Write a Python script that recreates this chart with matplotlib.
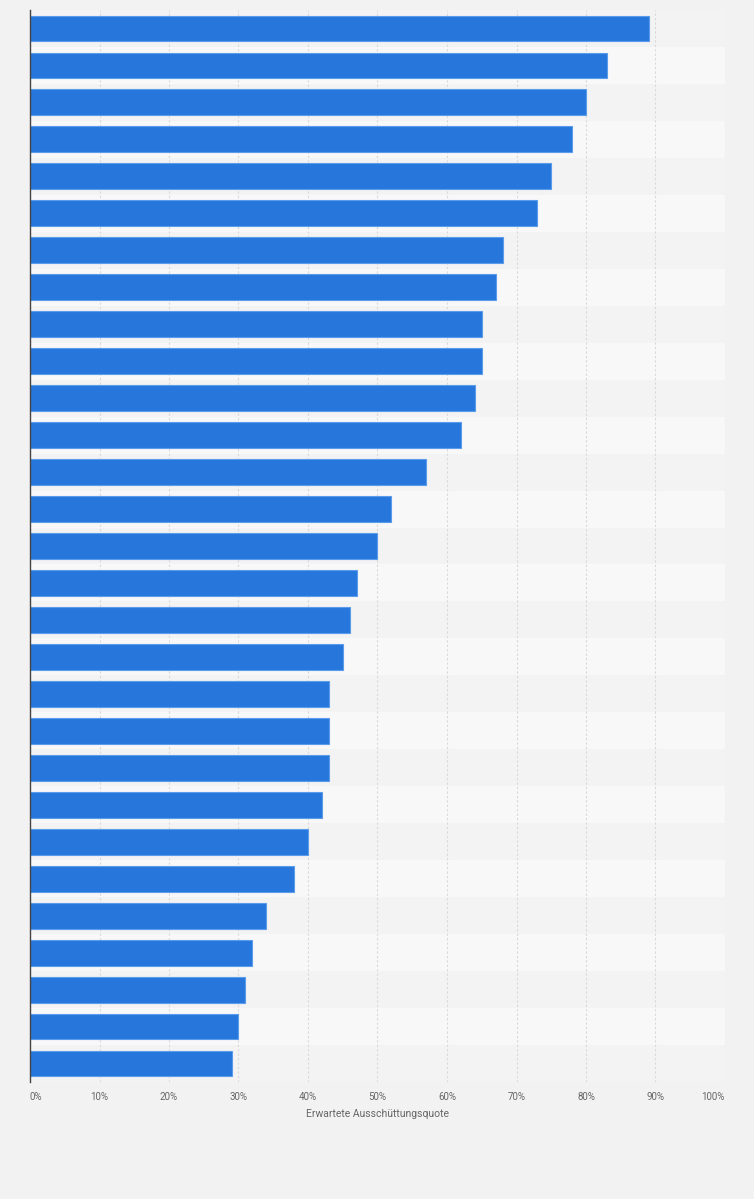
import matplotlib
matplotlib.use("Agg")
import matplotlib.pyplot as plt
import numpy as np

values = [89, 83, 80, 78, 75, 73, 68, 67, 65, 65, 64, 62, 57, 52, 50, 47, 46, 45,
          43, 43, 43, 42, 40, 38, 34, 32, 31, 30, 29]
ticks = [0, 10, 20, 30, 40, 50, 60, 70, 80, 90, 100]
tick_labels = [f"{t}%" for t in ticks]
xlabel = "Erwartete Ausschüttungsquote"

plt.rcParams['font.family'] = ['Roboto', 'DejaVu Sans']

W, H = 754, 1199
fig = plt.figure(figsize=(W / 100, H / 100), dpi=100)
fig.patch.set_facecolor('#f2f2f2')
ax = fig.add_axes([30 / W, 1 - 1082 / H, (725 - 30) / W, (1082 - 10) / H])
ax.set_facecolor('#f2f2f2')

n = len(values)
y = np.arange(n)
for i in range(n):
    col = '#f3f3f3' if i % 2 == 0 else '#f8f8f8'
    ax.axhspan(i - 0.5, i + 0.5, color=col, zorder=0, lw=0)

ax.barh(y, values, height=0.70, color='#2776db', edgecolor='#5b9beb',
        linewidth=0.8, zorder=3)

ax.set_xlim(0, 100)
ax.set_ylim(n - 0.5, -0.5)
ax.set_yticks([])
ax.set_xticks(ticks)
ax.set_xticklabels(tick_labels, fontsize=7, color='#666666')
lbls = ax.get_xticklabels()
lbls[0].set_ha('left')
lbls[-1].set_ha('right')
ax.tick_params(axis='x', length=0, pad=7)
ax.xaxis.grid(True, linestyle=(0, (2, 2)), color='#d9d9d9', linewidth=0.8, zorder=1)
ax.set_axisbelow(True)
for s in ['top', 'right', 'bottom']:
    ax.spines[s].set_visible(False)
ax.spines['left'].set_color('#444444')
ax.spines['left'].set_linewidth(1.0)
ax.spines['left'].set_zorder(5)
ax.set_xlabel(xlabel, fontsize=7.5, color='#666666', labelpad=5)

fig.savefig('out.png', dpi=100, facecolor=fig.get_facecolor())
